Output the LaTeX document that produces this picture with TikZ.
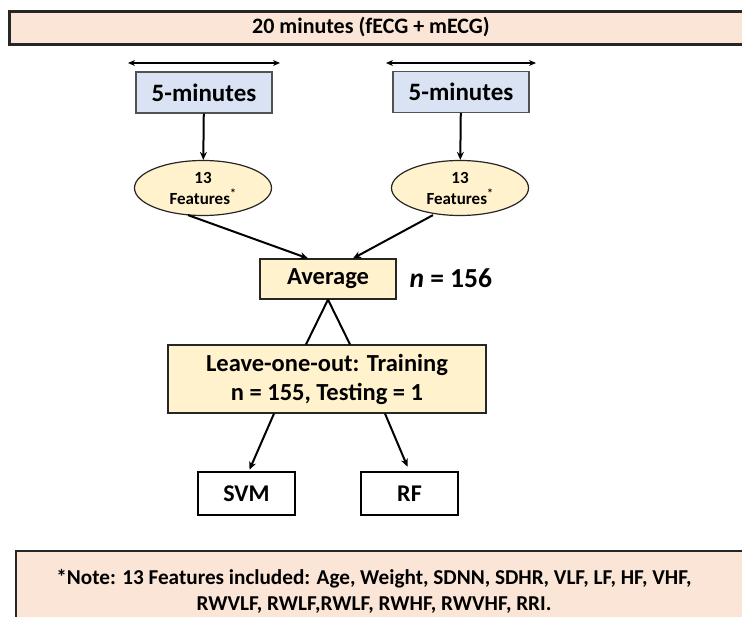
\documentclass[tikz,border=0pt]{standalone}
\usepackage{fontspec}
\setmainfont{Carlito}
\usetikzlibrary{shapes.geometric,arrows.meta,calc}
\definecolor{peach}{HTML}{FBE5D6}
\definecolor{lblue}{HTML}{DAE3F3}
\definecolor{lyel}{HTML}{FFF2CC}
\definecolor{bord}{HTML}{262626}
\tikzset{
  banner/.style={draw=bord, line width=2.6pt, fill=peach, anchor=north west, inner sep=0pt},
  minbox/.style={draw=bord!80, line width=1.2pt, fill=lblue, minimum width=136pt, minimum height=41pt, inner sep=0pt, font=\bfseries\fontsize{25}{28}\selectfont},
  featell/.style={ellipse, draw=bord, line width=1.2pt, fill=lyel, minimum width=137pt, minimum height=55pt, inner sep=0pt, align=center, font=\bfseries\fontsize{17}{21}\selectfont},
  ybox/.style={draw=bord, line width=1.2pt, fill=lyel, inner sep=0pt, align=center, font=\bfseries\fontsize{24.5}{29}\selectfont},
  mbox/.style={draw=black, line width=2.6pt, fill=white, minimum width=97pt, minimum height=43pt, inner sep=0pt, font=\bfseries\fontsize{24}{28}\selectfont},
  arr/.style={-{Stealth[length=8pt,width=7pt]}, line width=2pt},
  dbl/.style={{Stealth[length=7pt,width=6pt]}-{Stealth[length=7pt,width=6pt]}, line width=1.1pt},
  ln/.style={line width=2pt}
}
\begin{document}
\begin{tikzpicture}[x=1pt,y=-1pt]
\useasboundingbox (0,0) rectangle (742,617);
\begin{scope}
\clip (0,0) rectangle (742,617);
\node[banner, minimum width=760pt, minimum height=33pt] (top) at (8,10) {};
\node[font=\bfseries\fontsize{22}{26}\selectfont] (toptxt) at (371,27) {20 minutes (fECG + mECG)};
\node[banner, line width=1.6pt, minimum width=760pt, minimum height=90pt] (note) at (15,550) {};
\node[align=center, font=\bfseries\fontsize{21.2}{26}\selectfont] (notetxt) at (374,591) {*Note: 13 Features included: Age, Weight, SDNN, SDHR, VLF, LF, HF, VHF,\\RWVLF, RWLF,RWLF, RWHF, RWVHF, RRI.};
\end{scope}

\coordinate (la) at (128,63);
\coordinate (lb) at (280,63);
\coordinate (ra) at (386,63);
\coordinate (rb) at (536,63);
\draw[dbl] (la) -- (lb);
\draw[dbl] (ra) -- (rb);

\node[minbox] (m1) at (204,92.5) {5-minutes};
\node[minbox] (m2) at (461,92) {5-minutes};

\node[featell] (f1) at (203,188) {13\\Features\textsuperscript{*}};
\node[featell] (f2) at (460,188) {13\\Features\textsuperscript{*}};

\draw[arr] (m1) -- (f1);
\draw[arr] (m2) -- (f2);

\node[ybox, minimum width=136pt, minimum height=40pt] (avg) at (328,279) {Average};
\node[font=\bfseries\fontsize{27.5}{30}\selectfont, anchor=west] (n) at (406,278) {\textit{n} = 156};

\draw[arr] ($(f1.south)+(-15,-1)$) -- ($(avg.north)+(-20,0)$);
\draw[arr] ($(f2.south)+(-27,-1)$) -- ($(avg.north)+(25,0)$);

\node[ybox, minimum width=318pt, minimum height=68pt] (loo) at (327,379) {Leave-one-out: Training\\n = 155, Testing = 1};

\draw[ln] (avg.south) -- ($(loo.north)+(-21,0)$);
\draw[ln] (avg.south) -- ($(loo.north)+(23,0)$);

\node[mbox] (svm) at (246.5,493.5) {SVM};
\node[mbox] (rf) at (409.5,493.5) {RF};

\draw[arr] ($(loo.south)+(-53,0)$) -- ($(svm.north)+(3,-1)$);
\draw[arr] ($(loo.south)+(58,0)$) -- ($(rf.north)+(-2,-4)$);
\end{tikzpicture}
\end{document}
